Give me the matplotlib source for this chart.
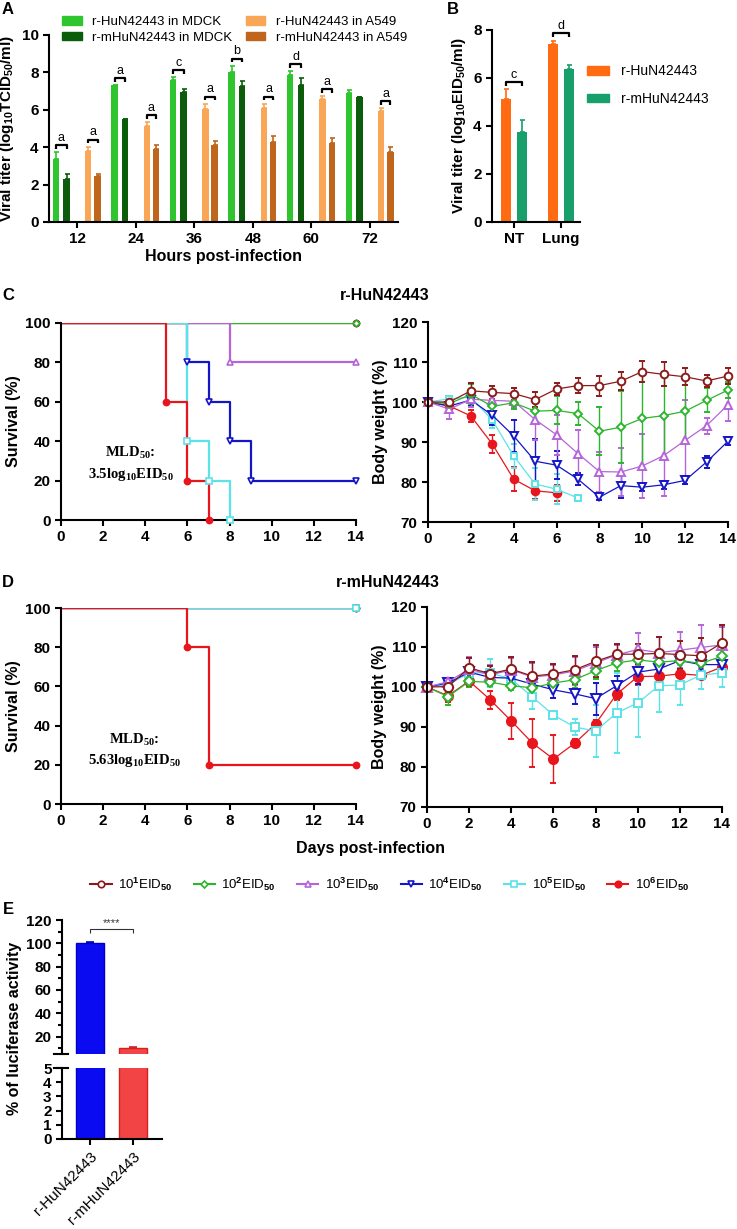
import numpy as np
import matplotlib.pyplot as plt
from matplotlib.patches import Patch
from matplotlib.lines import Line2D
from matplotlib.ticker import MultipleLocator

plt.rcParams['font.family'] = ['Liberation Sans', 'DejaVu Sans']
plt.rcParams['font.weight'] = 'bold'
plt.rcParams['axes.labelweight'] = 'bold'
plt.rcParams['mathtext.fontset'] = 'custom'
plt.rcParams['mathtext.rm'] = 'Liberation Sans'
plt.rcParams['mathtext.it'] = 'Liberation Sans:italic'
plt.rcParams['mathtext.bf'] = 'Liberation Sans:bold'
plt.rcParams['mathtext.sf'] = 'Liberation Serif:bold'

# ---- panel A: growth kinetics ----
hours = ['12', '24', '36', '48', '60', '72']
hun_mdck = [3.38, 7.31, 7.59, 8.0, 7.88, 6.88]
hun_mdck_err = [0.35, 0.0, 0.14, 0.35, 0.17, 0.2]
mhun_mdck = [2.32, 5.52, 6.94, 7.27, 7.34, 6.67]
mhun_mdck_err = [0.26, 0.0, 0.18, 0.28, 0.36, 0.0]
hun_a549 = [3.79, 5.13, 6.02, 6.1, 6.57, 5.93]
hun_a549_err = [0.24, 0.2, 0.3, 0.22, 0.16, 0.14]
mhun_a549 = [2.48, 3.91, 4.14, 4.3, 4.23, 3.73]
mhun_a549_err = [0.1, 0.23, 0.21, 0.28, 0.25, 0.3]
sig_mdck = ['a', 'a', 'c', 'b', 'd', '']
sig_a549 = ['a', 'a', 'a', 'a', 'a', 'a']
a_labels = ['r-HuN42443 in MDCK', 'r-mHuN42443 in MDCK',
            'r-HuN42443 in A549', 'r-mHuN42443 in A549']

# ---- panel B: mouse tissue titers ----
tissues = ['NT', 'Lung']
hun_tissue = [5.12, 7.42]
hun_tissue_err = [0.41, 0.14]
mhun_tissue = [3.75, 6.39]
mhun_tissue_err = [0.5, 0.16]
sig_tissue = ['c', 'd']

# ---- panels C/D: survival and body weight ----
doses = ['10$^{1}$EID$_{50}$', '10$^{2}$EID$_{50}$', '10$^{3}$EID$_{50}$',
         '10$^{4}$EID$_{50}$', '10$^{5}$EID$_{50}$', '10$^{6}$EID$_{50}$']
days = list(range(15))

c_surv_days = [[0, 14], [0, 14], [0, 8, 14], [0, 6, 7, 8, 9, 14], [0, 6, 7, 8], [0, 5, 6, 7]]
c_surv_pct = [[100, 100], [100, 100], [100, 80, 80], [100, 80, 60, 40, 20, 20],
              [100, 40, 20, 0], [100, 60, 20, 0]]
d_surv_days = [[0, 14], [0, 14], [0, 14], [0, 14], [0, 14], [0, 6, 7, 14]]
d_surv_pct = [[100, 100], [100, 100], [100, 100], [100, 100], [100, 100], [100, 80, 20, 20]]

c_bw_1 = [100, 100, 102.8, 102.4, 102.1, 100.6, 103.25, 104.1, 104.1, 105.2, 107.6, 106.9, 106.3, 105.25, 106.5]
c_bw_1_err = [0, 0.6, 2.0, 1.7, 1.5, 1.8, 1.6, 1.9, 2.5, 2.3, 2.6, 3.0, 2.1, 1.6, 2.0]
c_bw_2 = [100, 99.6, 101.9, 98.9, 99.8, 97.7, 97.9, 97.1, 92.7, 93.7, 95.9, 96.6, 97.7, 100.4, 103.0]
c_bw_2_err = [0, 0.8, 2.5, 1.5, 1.5, 3.0, 3.5, 2.8, 6.0, 9.0, 12.0, 11.0, 8.0, 3.0, 2.0]
c_bw_3 = [100, 98.2, 100.7, 100.4, 100.2, 95.6, 91.8, 87.1, 82.6, 82.5, 84.0, 86.6, 90.4, 94.1, 99.3]
c_bw_3_err = [0, 2.5, 2.0, 1.5, 1.5, 5.0, 5.0, 6.0, 5.0, 6.0, 8.0, 10.0, 10.0, 2.0, 4.0]
c_bw_4 = [100, 99.0, 100.5, 96.7, 91.5, 85.2, 84.2, 80.7, 76.2, 79.1, 78.7, 79.3, 80.4, 85.0, 90.2]
c_bw_4_err = [0, 1.0, 1.5, 2.5, 4.0, 5.5, 3.5, 1.5, 0.6, 3.0, 1.0, 1.0, 1.0, 1.5, 1.0]
c_bw_5 = [100, 100.8, 101.2, 95.5, 86.5, 79.5, 78.2, 76.0]
c_bw_5_err = [0, 0.8, 1.0, 2.0, 3.0, 4.0, 3.8, 0]
c_bw_6 = [100, 99.0, 96.5, 89.5, 80.7, 77.8, 77.3]
c_bw_6_err = [0, 0.8, 1.5, 2.3, 3.0, 2.0, 2.0]

d_bw_1 = [100, 100.1, 104.8, 103.3, 104.5, 102.7, 103.3, 104.3, 106.4, 108.2, 108.2, 108.4, 108.1, 107.8, 111.0]
d_bw_1_err = [0, 1.2, 2.5, 2.0, 3.0, 3.5, 2.5, 3.5, 4.0, 2.5, 2.5, 4.0, 3.5, 4.5, 4.5]
d_bw_2 = [100, 97.6, 101.4, 101.2, 100.3, 99.8, 101.0, 101.8, 104.1, 106.0, 106.8, 106.2, 106.6, 105.9, 107.7]
d_bw_2_err = [0, 2.0, 1.5, 1.0, 1.0, 1.5, 1.5, 2.0, 2.0, 2.0, 2.0, 2.5, 2.5, 2.0, 2.0]
d_bw_3 = [100, 101.3, 104.5, 103.0, 104.3, 102.5, 103.0, 104.0, 106.0, 108.0, 109.4, 108.6, 109.2, 109.9, 110.5]
d_bw_3_err = [0, 1.0, 3.0, 2.5, 3.0, 3.5, 2.5, 3.5, 4.0, 2.5, 4.0, 4.0, 4.5, 5.5, 4.5]
d_bw_4 = [100, 101.0, 103.7, 102.4, 102.2, 100.7, 99.3, 98.3, 97.1, 100.3, 103.7, 104.5, 106.6, 105.6, 105.6]
d_bw_4_err = [0, 1.0, 1.5, 1.5, 1.5, 1.5, 2.0, 2.5, 4.0, 2.5, 3.0, 2.0, 2.0, 2.0, 2.5]
d_bw_5 = [100, 100.5, 103.6, 103.5, 102.0, 97.5, 93.0, 90.0, 89.0, 93.5, 96.0, 100.3, 100.5, 103.0, 103.5]
d_bw_5_err = [0, 1.0, 2.0, 3.5, 2.5, 3.0, 1.0, 2.0, 6.5, 10.0, 8.5, 6.5, 5.0, 3.5, 3.5]
d_bw_6 = [100, 97.8, 101.5, 96.8, 91.5, 86.0, 82.0, 85.9, 90.8, 98.2, 102.6, 102.7, 103.3, 102.9, 105.0]
d_bw_6_err = [0, 1.5, 1.5, 2.2, 4.5, 6.0, 6.0, 1.0, 1.0, 1.5, 2.0, 1.5, 1.0, 1.0, 1.0]

# ---- panel E: luciferase ----
constructs = ['r-HuN42443', 'r-mHuN42443']
luc = [100.0, 9.8]
luc_err = [1.5, 0.8]

W, H = 737, 1229
fig = plt.figure(figsize=(W / 100, H / 100), dpi=100)


def add_ax(l, t, r, b):
    return fig.add_axes([l / W, 1 - b / H, (r - l) / W, (b - t) / H])


def style(ax, fs=11):
    for s in ['top', 'right']:
        ax.spines[s].set_visible(False)
    for s in ['left', 'bottom']:
        ax.spines[s].set_linewidth(1.5)
    ax.tick_params(width=1.5, length=4, labelsize=fs)


def bracket(ax, x1, x2, y, h, label, lw=1.6, fs=9, color='black'):
    ax.plot([x1, x1, x2, x2], [y - h, y, y, y - h], color=color, lw=lw,
            solid_capstyle='butt', clip_on=False)
    ax.text((x1 + x2) / 2, y + h * 0.4, label, ha='center', va='bottom',
            fontsize=fs, fontweight='normal', color=color)


# ================= A =================
axA = add_ax(49, 35, 398, 222)
xa = np.arange(len(hours))
a_cols = ['#2EC52E', '#0B5C0B', '#F9A656', '#C0651C']
a_offs = [-0.36, -0.18, 0.19, 0.35]
a_vals = [hun_mdck, mhun_mdck, hun_a549, mhun_a549]
a_errs = [hun_mdck_err, mhun_mdck_err, hun_a549_err, mhun_a549_err]
for vals, err, col, off in zip(a_vals, a_errs, a_cols, a_offs):
    axA.bar(xa + off, vals, 0.11, color=col,
            yerr=[np.zeros(len(err)), err],
            error_kw=dict(ecolor=col, elinewidth=1.2, capsize=1.8, capthick=1.2))
for i in range(len(hours)):
    if sig_mdck[i]:
        y = max(hun_mdck[i] + hun_mdck_err[i], mhun_mdck[i] + mhun_mdck_err[i]) + 0.38
        bracket(axA, xa[i] + a_offs[0], xa[i] + a_offs[1], y, 0.2, sig_mdck[i])
    if sig_a549[i]:
        y = max(hun_a549[i] + hun_a549_err[i], mhun_a549[i] + mhun_a549_err[i]) + 0.38
        bracket(axA, xa[i] + a_offs[2], xa[i] + a_offs[3], y, 0.2, sig_a549[i])
axA.set_xlim(-0.48, 5.48)
axA.set_ylim(0, 10)
axA.set_yticks([0, 2, 4, 6, 8, 10])
axA.set_xticks(xa)
axA.set_xticklabels(hours)
axA.set_xlabel('Hours post-infection', fontsize=11.5, labelpad=2)
axA.set_ylabel('Viral titer (log$_{\\mathbf{10}}$TCID$_{\\mathbf{50}}$/ml)', fontsize=11, labelpad=4)
style(axA)
fig.legend([Patch(color=c) for c in a_cols], a_labels, ncol=2, loc='upper left',
           bbox_to_anchor=(62 / W, 1 - 16 / H), frameon=False,
           prop={'size': 9.5, 'weight': 'normal'}, handlelength=1.5, handleheight=0.6,
           columnspacing=1.0, labelspacing=0.3, borderpad=0, borderaxespad=0,
           handletextpad=0.8)

# ================= B =================
axB = add_ax(492, 30, 580, 222)
xb = np.arange(len(tissues))
b_cols = ['#FF6A12', '#18A06C']
axB.bar(xb - 0.17, hun_tissue, 0.22, color=b_cols[0],
        yerr=[np.zeros(2), hun_tissue_err],
        error_kw=dict(ecolor=b_cols[0], elinewidth=1.2, capsize=1.8, capthick=1.2))
axB.bar(xb + 0.17, mhun_tissue, 0.22, color=b_cols[1],
        yerr=[np.zeros(2), mhun_tissue_err],
        error_kw=dict(ecolor=b_cols[1], elinewidth=1.2, capsize=1.8, capthick=1.2))
for i in range(len(tissues)):
    y = max(hun_tissue[i] + hun_tissue_err[i], mhun_tissue[i] + mhun_tissue_err[i]) + 0.3
    bracket(axB, xb[i] - 0.17, xb[i] + 0.17, y, 0.16, sig_tissue[i])
axB.set_xlim(-0.47, 1.4)
axB.set_ylim(0, 8)
axB.set_yticks([0, 2, 4, 6, 8])
axB.set_xticks(xb)
axB.set_xticklabels(tissues)
axB.set_ylabel('Viral titer (log$_{\\mathbf{10}}$EID$_{\\mathbf{50}}$/ml)', fontsize=11, labelpad=4)
style(axB)
fig.legend([Patch(color=c) for c in b_cols], ['r-HuN42443', 'r-mHuN42443'],
           loc='upper left', bbox_to_anchor=(587 / W, 1 - 64 / H), frameon=False,
           prop={'size': 10, 'weight': 'normal'}, handlelength=1.6, handleheight=0.6,
           labelspacing=1.0, borderpad=0, borderaxespad=0, handletextpad=0.85)

# ================= C / D =================
dose_cols = ['#8B1A1A', '#2DB52D', '#B565D9', '#1515C8', '#5BE3E8', '#E8161C']
dose_mk = ['o', 'D', '^', 'v', 's', 'o']
dose_face = ['white', 'white', 'white', 'white', 'white', '#E8161C']
dose_ms = [5.5, 4.2, 5.5, 5.5, 5, 5.5]


def survival(ax, tlist, plist, order):
    for k in order:
        ax.plot(tlist[k], plist[k], drawstyle='steps-post', color=dose_cols[k], lw=1.6)
        ax.plot(tlist[k][1:], plist[k][1:], ls='none', marker=dose_mk[k],
                mfc=dose_face[k], mec=dose_cols[k], mew=1.2, ms=dose_ms[k] * 0.8,
                clip_on=False, zorder=3)
    ax.set_xlim(0, 14)
    ax.set_ylim(0, 100)
    ax.set_xticks(range(0, 15, 2))
    ax.set_yticks(range(0, 101, 20))
    ax.set_ylabel('Survival (%)', fontsize=11.5, labelpad=3)
    style(ax)


def weight(ax, series, errs, scale):
    for k in [5, 4, 3, 2, 1, 0]:
        n = len(series[k])
        cont = ax.errorbar(days[:n], series[k], yerr=errs[k], color=dose_cols[k],
                           marker=dose_mk[k], mfc=dose_face[k], mec=dose_cols[k],
                           mew=1.4, ms=dose_ms[k] * scale, lw=0.9, elinewidth=1.0,
                           capsize=2.5, capthick=1.0)
        for art in cont.get_children():
            art.set_clip_on(False)
    ax.set_xlim(0, 14)
    ax.set_ylim(70, 120)
    ax.set_xticks(range(0, 15, 2))
    ax.set_yticks(range(70, 121, 10))
    ax.set_ylabel('Body weight (%)', fontsize=11.5, labelpad=3)
    style(ax)


axCs = add_ax(61, 323, 356, 520)
survival(axCs, c_surv_days, c_surv_pct, [0, 1, 2, 3, 4, 5])
axCs.text(3.3, 34, 'MLD$_{\\mathsf{50}}$:', family='Liberation Serif', fontsize=10.5,
          ha='center', va='center')
axCs.text(3.3, 23, '3.5log$_{\\mathsf{10}}$EID$_{\\mathsf{50}}$', family='Liberation Serif',
          fontsize=10.5, ha='center', va='center')
axCw = add_ax(428, 322, 728, 522)
weight(axCw, [c_bw_1, c_bw_2, c_bw_3, c_bw_4, c_bw_5, c_bw_6],
       [c_bw_1_err, c_bw_2_err, c_bw_3_err, c_bw_4_err, c_bw_5_err, c_bw_6_err], 1.0)

axDs = add_ax(61, 608, 356, 804)
survival(axDs, d_surv_days, d_surv_pct, [0, 1, 2, 3, 4, 5])
axDs.text(3.5, 32.6, 'MLD$_{\\mathsf{50}}$:', family='Liberation Serif', fontsize=10.5,
          ha='center', va='center')
axDs.text(3.5, 22.4, '5.63log$_{\\mathsf{10}}$EID$_{\\mathsf{50}}$', family='Liberation Serif',
          fontsize=10.5, ha='center', va='center')
axDw = add_ax(427, 607, 722, 807)
weight(axDw, [d_bw_1, d_bw_2, d_bw_3, d_bw_4, d_bw_5, d_bw_6],
       [d_bw_1_err, d_bw_2_err, d_bw_3_err, d_bw_4_err, d_bw_5_err, d_bw_6_err], 1.2)

fig.text(385 / W, 1 - 295 / H, 'r-HuN42443', fontsize=11.5, ha='center', va='center')
fig.text(388 / W, 1 - 582 / H, 'r-mHuN42443', fontsize=11.5, ha='center', va='center')
fig.text(370 / W, 1 - 848 / H, 'Days post-infection', fontsize=11.5, ha='center', va='center')

handles = [Line2D([], [], color=dose_cols[k], marker=dose_mk[k], mfc=dose_face[k],
                  mec=dose_cols[k], mew=1.2, ms=dose_ms[k] * 0.85, lw=1.5) for k in range(6)]
fig.legend(handles, doses, ncol=6, loc='center', bbox_to_anchor=(390 / W, 1 - 884 / H),
           frameon=False, prop={'size': 9.5, 'weight': 'normal'}, handlelength=1.6,
           columnspacing=1.6, handletextpad=0.5, borderpad=0)

# ================= E =================
axEu = add_ax(62, 920, 162, 1054)
axEl = add_ax(62, 1068, 162, 1139)
xe = np.arange(len(constructs))
e_cols = ['#0B0BF2', '#F24444']
e_edge = ['#0000C8', '#D42020']
for ax in (axEu, axEl):
    ax.bar(xe, luc, 0.65, color=e_cols, edgecolor=e_edge, lw=1)
    ax.set_xlim(-0.65, 1.67)
    style(ax)
for i in range(len(constructs)):
    axEu.errorbar(xe[i], luc[i], yerr=[[0], [luc_err[i]]], fmt='none', ecolor=e_edge[i],
                  elinewidth=1.2, capsize=3, capthick=1.2)
axEu.set_ylim(5, 120)
axEu.set_yticks(range(20, 121, 20))
axEu.yaxis.set_minor_locator(MultipleLocator(10))
axEu.tick_params(axis='y', which='minor', width=1.5, length=3)
axEu.spines['bottom'].set_visible(False)
axEu.set_xticks([])
axEu.plot([-0.08, 0.06], [0, 0], color='black', lw=1.5, transform=axEu.transAxes, clip_on=False)
axEl.set_ylim(0, 5)
axEl.set_yticks(range(0, 6))
axEl.plot([-0.08, 0.06], [1, 1], color='black', lw=1.5, transform=axEl.transAxes, clip_on=False)
axEl.set_xticks(xe)
axEl.set_xticklabels(constructs, rotation=45, ha='right', rotation_mode='anchor',
                     fontweight='normal', fontsize=11)
bracket(axEu, xe[0], xe[1], 112, 3, '****', lw=0.8, fs=8, color='#333333')
fig.text(15 / W, 1 - 1028 / H, '% of luciferase activity', rotation=90, fontsize=11.5,
         ha='center', va='center')

# panel letters
for lab, px, py in [('A', 8, 9), ('B', 453, 9), ('C', 8, 295), ('D', 8, 582), ('E', 8, 910)]:
    fig.text(px / W, 1 - py / H, lab, fontsize=12, ha='center', va='center')

fig.savefig('out.png', dpi=100)
